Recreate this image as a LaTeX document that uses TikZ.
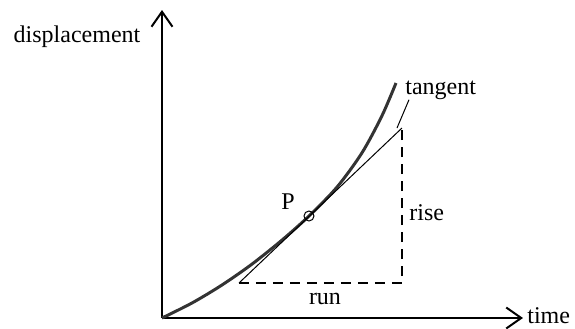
\documentclass[tikz,border=0pt]{standalone}
\usepackage{fontspec}
\setmainfont{Liberation Serif}
\usetikzlibrary{arrows.meta}
\begin{document}
\begin{tikzpicture}[x=0.5pt, y=0.5pt, >={Straight Barb[length=7.5pt,width=10.5pt]},
  lbl/.style={font=\fontsize{12}{14}\selectfont, inner sep=0pt},
  axis/.style={line width=1pt},
  curve/.style={line width=1.5pt, black!80},
  guide/.style={line width=0.6pt, dash pattern=on 5pt off 3.5pt}]
\useasboundingbox (-162,-10) rectangle (413,318);
\coordinate (O) at (0,0);
\coordinate (ytop) at (0,308);
\coordinate (xend) at (361,0);
\draw[axis,->] (O) -- (ytop);
\draw[axis,->] (O) -- (xend);
\node[lbl, anchor=west] (time) at ([xshift=2pt,yshift=1pt]xend) {time};
\node[lbl] (disp) at (-85,281) {displacement};
% the curve
\draw[curve] plot[smooth] coordinates {(0,0) (30,15) (60,33) (90,53.9) (120,77.9)
  (147,102) (175,130.9) (200,165.2) (220,202.3) (234,235)};
% tangent line and triangle
\coordinate (A) at (77,35);
\coordinate (B) at (240,190);
\coordinate (C) at (240,35);
\draw[line width=0.5pt] (A) -- (B);
\draw[guide] (A) -- (C) -- (B);
\node[draw, circle, line width=0.5pt, minimum size=5pt, inner sep=0pt] (P) at (147,102) {};
\node[lbl] (Plbl) at (126,116) {P};
\node[lbl] (run) at (163,19) {run};
\node[lbl, anchor=west] (rise) at (247,105) {rise};
\node[lbl, anchor=west] (tan) at (243,228) {tangent};
\coordinate (lead) at (235,190);
\draw[line width=0.5pt] (lead) -- ([xshift=2pt]tan.south west);
\end{tikzpicture}
\end{document}
